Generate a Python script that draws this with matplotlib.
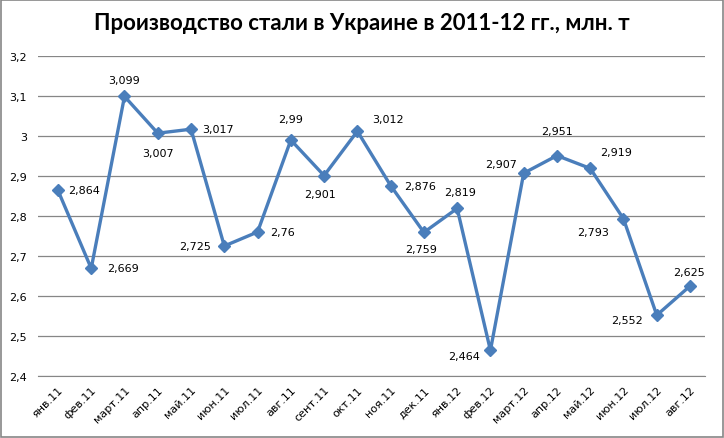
import matplotlib
matplotlib.use('Agg')
import matplotlib.pyplot as plt
from matplotlib.patches import Rectangle

plt.rcParams['font.family'] = ['DejaVu Sans']

# данные
months = ['янв.11', 'фев.11', 'март.11', 'апр.11', 'май.11', 'июн.11', 'июл.11',
          'авг.11', 'сент.11', 'окт.11', 'ноя.11', 'дек.11', 'янв.12', 'фев.12',
          'март.12', 'апр.12', 'май.12', 'июн.12', 'июл.12', 'авг.12']
steel = [2.864, 2.669, 3.099, 3.007, 3.017, 2.725, 2.76, 2.99, 2.901, 3.012,
         2.876, 2.759, 2.819, 2.464, 2.907, 2.951, 2.919, 2.793, 2.552, 2.625]
value_labels = ['2,864', '2,669', '3,099', '3,007', '3,017', '2,725', '2,76',
                '2,99', '2,901', '3,012', '2,876', '2,759', '2,819', '2,464',
                '2,907', '2,951', '2,919', '2,793', '2,552', '2,625']
y_ticks = [2.4, 2.5, 2.6, 2.7, 2.8, 2.9, 3.0, 3.1, 3.2]
y_tick_labels = ['2,4', '2,5', '2,6', '2,7', '2,8', '2,9', '3', '3,1', '3,2']

# положение подписей: (dx, dy в пикселях, ha, va)
label_pos = [(10, 0, 'left', 'center'), (16, 0, 'left', 'center'),
             (0, 16, 'center', 'center'), (0, -20, 'center', 'center'),
             (11, 0, 'left', 'center'), (-13, 0, 'right', 'center'),
             (13, 0, 'left', 'center'), (0, 21, 'center', 'center'),
             (-4, -18, 'center', 'center'), (15, 12, 'left', 'center'),
             (13, 0, 'left', 'center'), (-3, -17, 'center', 'center'),
             (3, 16, 'center', 'center'), (-10, -6, 'right', 'center'),
             (-7, 9, 'right', 'center'), (0, 25, 'center', 'center'),
             (10, 16, 'left', 'center'), (-14, -13, 'right', 'center'),
             (-14, -5, 'right', 'center'), (-1, 14, 'center', 'center')]

fig = plt.figure(figsize=(7.24, 4.39), dpi=100)
fig.patches.append(Rectangle((0.001, 0.002), 0.997, 0.995, transform=fig.transFigure,
                             fill=False, edgecolor='#868686', linewidth=1.2))
ax = fig.add_axes([38 / 724, 1 - 377 / 439, 667 / 724, 320 / 439])

x = list(range(len(months)))
ax.plot(x, steel, color='#4A7EBB', linewidth=2.4, marker='D', markersize=6.5,
        markerfacecolor='#4A7EBB', markeredgecolor='#4A7EBB', zorder=3)

for i, (v, t) in enumerate(zip(steel, value_labels)):
    dx, dy, ha, va = label_pos[i]
    ax.annotate(t, (i, v), xytext=(dx, dy), textcoords='offset pixels',
                ha=ha, va=va, fontsize=8, color='black')

ax.set_xlim(-0.6, 19.45)
ax.set_ylim(2.4, 3.2)
ax.set_yticks(y_ticks)
ax.set_yticklabels(y_tick_labels, fontsize=8)
ax.set_xticks(x)
ax.set_xticklabels(months, rotation=45, ha='right', rotation_mode='anchor', fontsize=8)
ax.yaxis.grid(True, color='#868686', linewidth=0.9)
ax.set_axisbelow(True)
for s in ['top', 'right', 'left']:
    ax.spines[s].set_visible(False)
ax.spines['bottom'].set_color('#868686')
ax.tick_params(axis='both', length=0)
ax.tick_params(axis='y', pad=8)
ax.tick_params(axis='x', pad=6)

fig.text(0.5, 1 - 24 / 439, 'Производство стали в Украине в 2011-12 гг., млн. т',
         ha='center', va='center', fontsize=16, fontweight='bold',
         family=['Lato', 'Liberation Sans'])

fig.savefig('out.png', dpi=100)
